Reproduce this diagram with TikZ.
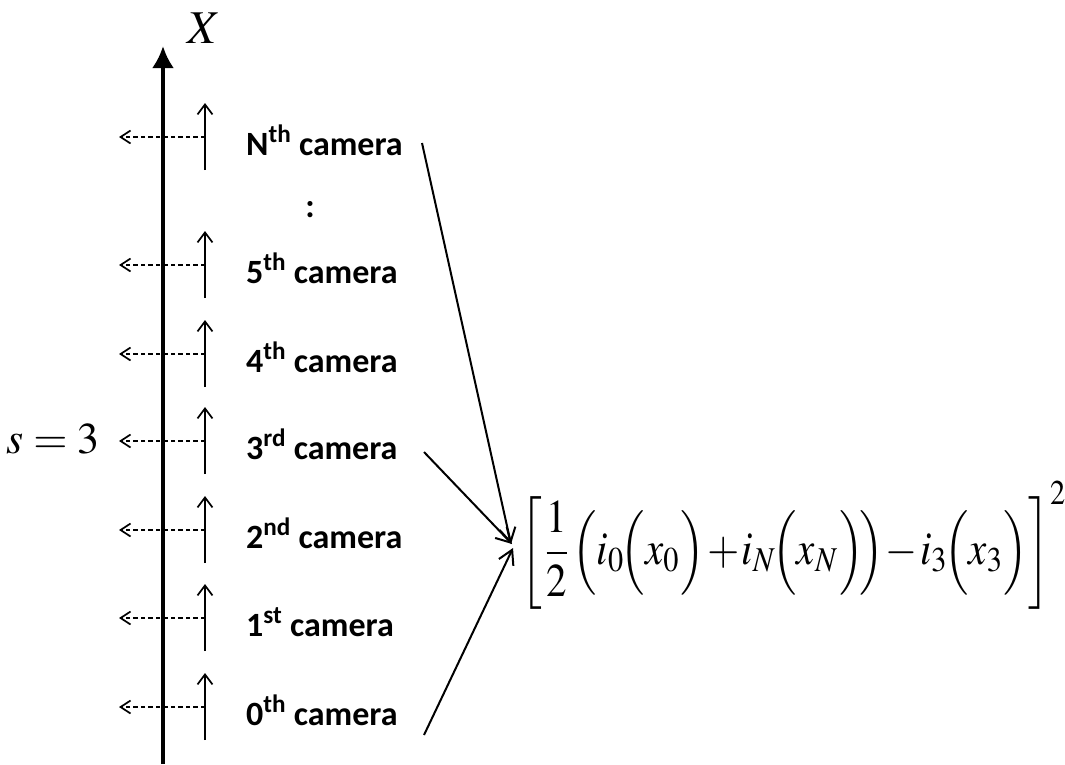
\documentclass[tikz,border=0pt]{standalone}
\usepackage{mathptmx}
\usepackage{graphicx}
\usepackage{fontspec}
\newfontfamily\calfont{Carlito}
\usetikzlibrary{arrows.meta}
\tikzset{
  camlabel/.style={anchor=base west, inner sep=0pt, font=\calfont\bfseries\fontsize{34}{40}\selectfont},
  dashray/.style={line width=1.7pt, dash pattern=on 4.5pt off 3pt, -{Straight Barb[length=10pt,width=13pt,line width=1.7pt]}},
  uparrow/.style={line width=1.7pt, -{Straight Barb[length=10pt,width=15pt,line width=1.7pt]}},
  feed/.style={line width=2pt, -{Straight Barb[length=14pt,width=16pt,line width=2pt]}},
  axis/.style={line width=4pt, -{Latex[length=22pt,width=22pt]}}
}
\begin{document}
\begin{tikzpicture}[x=1pt,y=-1pt]
\useasboundingbox[fill=white] (0,0) rectangle (1065,764);
% main axis
\coordinate (axbot) at (163,764);
\coordinate (axtop) at (163,46);
\draw[axis] (axbot) -- (axtop);
\node[inner sep=0pt] (xlab) at (204,28) {\scalebox{4.7}{$X$}};
% camera rows
\foreach \nm/\yy/\txt in {N/137/N\textsuperscript{th} camera,
                         five/265/5\textsuperscript{th} camera,
                         four/354/4\textsuperscript{th} camera,
                         three/441/3\textsuperscript{rd} camera,
                         two/530/2\textsuperscript{nd} camera,
                         one/618/1\textsuperscript{st} camera,
                         zero/707/0\textsuperscript{th} camera}{
  \coordinate (ub\nm) at (205,\yy+33);
  \coordinate (ut\nm) at (205,\yy-34);
  \coordinate (ds\nm) at (205,\yy);
  \coordinate (de\nm) at (119,\yy);
  \draw[uparrow] (ub\nm) -- (ut\nm);
  \draw[dashray] (ds\nm) -- (de\nm);
  \node[camlabel] (lab\nm) at (246,\yy+18) {\txt};
}
\node[inner sep=0pt, font=\calfont\bfseries\fontsize{34}{40}\selectfont] (dots) at (310,210) {:};
% s = 3
\node[inner sep=0pt] (slab) at (53,439) {\scalebox{4.4}{$s=3$}};
% formula
\node[inner sep=0pt, anchor=west] (formula) at (520,548) {\scalebox{4.1}[4.7]{$\displaystyle\medmuskip=1mu
  \left[\rule[-10.7pt]{0pt}{26.4pt}\frac{1}{2}\Bigl(i_0\!\Bigl(x_0\Bigr)+i_N\!\Bigl(x_N\Bigr)\!\Bigr)-i_3\!\Bigl(x_3\Bigr)\right]^2$}};
% feeds
\coordinate (fN) at (422,143);
\coordinate (f3) at (424,452);
\coordinate (f0) at (424,735);
\coordinate (tN) at (511,544);
\coordinate (t3) at (512,544);
\coordinate (t0) at (513,548);
\draw[feed] (fN) -- (tN);
\draw[feed] (f3) -- (t3);
\draw[feed] (f0) -- (t0);
\end{tikzpicture}
\end{document}
